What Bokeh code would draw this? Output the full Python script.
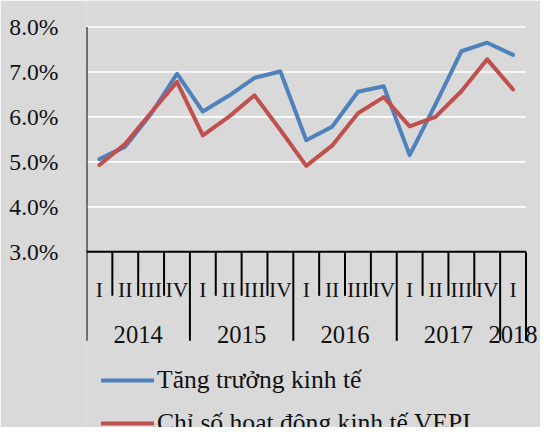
from bokeh.plotting import figure
from bokeh.models import Range1d, FixedTicker, PrintfTickFormatter, Legend, LegendItem
from bokeh.core.properties import value
from bokeh.embed import file_html
from bokeh.resources import INLINE

# ---- data ----
years = ["2014", "2015", "2016", "2017", "2018"]
quarters = ["I", "II", "III", "IV", "I", "II", "III", "IV", "I", "II", "III", "IV",
            "I", "II", "III", "IV", "I"]
quarter_year = ["2014"] * 4 + ["2015"] * 4 + ["2016"] * 4 + ["2017"] * 4 + ["2018"]
growth = [5.06, 5.34, 6.07, 6.96, 6.12, 6.47, 6.87, 7.01, 5.48, 5.78, 6.56, 6.68,
          5.15, 6.28, 7.46, 7.65, 7.38]
vepi = [4.93, 5.40, 6.10, 6.78, 5.59, 6.00, 6.48, 5.71, 4.91, 5.36, 6.08, 6.44,
        5.79, 6.00, 6.57, 7.28, 6.61]
yticks = [3, 4, 5, 6, 7, 8]
series_names = ["Tăng trưởng kinh tế", "Chỉ số hoạt động kinh tế VEPI"]

BG = "#d9d9d9"
BLUE = "#4f81bd"
RED = "#c0504d"
FONT = "Liberation Serif"
TXT = "#111111"

n = len(quarters)
xc = [i + 0.5 for i in range(n)]

p = figure(width=540, height=427, output_backend="svg", toolbar_location=None,
           x_axis_location=None,
           x_range=Range1d(0, 17.561), y_range=Range1d(-0.908, 8.589))
p.min_border = 0
p.min_border_left = 86
p.background_fill_color = BG
p.border_fill_color = BG
p.outline_line_color = None
p.grid.visible = False

ax = p.yaxis[0]
ax.ticker = FixedTicker(ticks=yticks)
ax.formatter = PrintfTickFormatter(format="%.1f%%")
ax.axis_line_color = None
ax.major_tick_line_color = None
ax.minor_tick_line_color = None
ax.major_label_standoff = 22
ax.major_label_text_font = FONT
ax.major_label_text_font_size = "23.6px"
ax.major_label_text_color = TXT

# gridlines
gy = yticks[1:]
p.segment(x0=[0] * len(gy), y0=gy, x1=[n] * len(gy), y1=gy,
          line_color="white", line_width=1.6)

# axis lines
ymin = yticks[0]
p.segment(x0=[0], y0=[ymin], x1=[n], y1=[ymin], line_color="black", line_width=2)
p.segment(x0=[0], y0=[yticks[-1]], x1=[0], y1=[1.02], line_color="black", line_width=2)

# category separators
sx, sy1 = [], []
for b in range(1, n + 1):
    long_sep = (b == n) or (quarter_year[b] != quarter_year[b - 1])
    sx.append(b)
    sy1.append(1.02 if long_sep else 2.02)
p.segment(x0=sx, y0=[ymin] * len(sx), x1=sx, y1=sy1, line_color="black", line_width=2)

# category labels
p.text(x=xc, y=[2.15] * n, text=quarters, text_font=value(FONT), text_font_size="21.6px",
       text_align="center", text_baseline="alphabetic", text_color=TXT)
yx = []
for yr in years:
    idx = [i for i, q in enumerate(quarter_year) if q == yr]
    yx.append((min(idx) + max(idx) + 1) / 2)
p.text(x=yx, y=[1.166] * len(years), text=years, text_font=value(FONT), text_font_size="24.6px",
       text_align="center", text_baseline="alphabetic", text_color=TXT)

# series
r1 = p.line(xc, growth, line_color=BLUE, line_width=4, line_join="round", line_cap="round")
r2 = p.line(xc, vepi, line_color=RED, line_width=4, line_join="round", line_cap="round")

legend = Legend(items=[LegendItem(label=series_names[0], renderers=[r1]),
                       LegendItem(label=series_names[1], renderers=[r2])],
                location=(15, -11))
legend.background_fill_alpha = 0
legend.border_line_color = None
legend.padding = 0
legend.margin = 0
legend.spacing = 13
legend.glyph_width = 53
legend.glyph_height = 30
legend.label_height = 30
legend.label_standoff = 3
legend.label_text_font = FONT
legend.label_text_font_size = "25.6px"
legend.label_text_color = TXT
p.add_layout(legend)

open("out.html", "w").write(file_html(p, INLINE))
